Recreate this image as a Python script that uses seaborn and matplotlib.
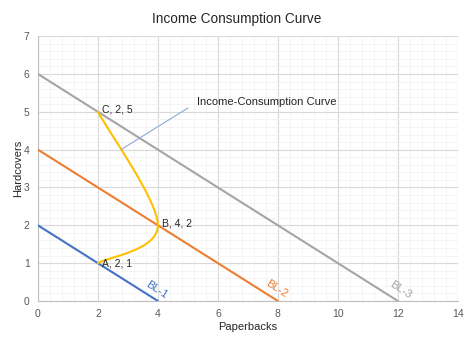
import numpy as np
import pandas as pd
import matplotlib
matplotlib.use("Agg")
import matplotlib.pyplot as plt
from matplotlib.path import Path
from matplotlib.patches import PathPatch
import seaborn as sns

# Budget lines: intercepts on each axis
budget_names = ["BL-1", "BL-2", "BL-3"]
paperback_max = [4, 8, 12]
hardcover_max = [2, 4, 6]
budget_colors = ["#4472C4", "#ED7D31", "#A5A5A5"]

# Optimal bundles on the income-consumption curve
point_names = ["A", "B", "C"]
point_x = [2, 4, 2]
point_y = [1, 2, 5]

sns.set_style("white")
plt.rcParams["font.family"] = ["Liberation Sans", "DejaVu Sans"]

fig = plt.figure(figsize=(4.74, 3.44), dpi=100)
ax = fig.add_axes([0.080, 0.125, 0.886, 0.770])

rows = []
for name, xm, ym in zip(budget_names, paperback_max, hardcover_max):
    rows.append({"line": name, "Paperbacks": 0, "Hardcovers": ym})
    rows.append({"line": name, "Paperbacks": xm, "Hardcovers": 0})
bl = pd.DataFrame(rows)
sns.lineplot(data=bl, x="Paperbacks", y="Hardcovers", hue="line",
             palette=dict(zip(budget_names, budget_colors)),
             linewidth=1.5, legend=False, ax=ax, zorder=3)

# Smoothed curve through the bundles (Catmull-Rom style Bezier segments)
P = np.column_stack([point_x, point_y]).astype(float)
n = len(P)
verts = [tuple(P[0])]
codes = [Path.MOVETO]
for i in range(n - 1):
    p_prev = P[max(i - 1, 0)]
    p0 = P[i]
    p1 = P[i + 1]
    p_next = P[min(i + 2, n - 1)]
    c1 = p0 + (p1 - p_prev) / 6.0
    c2 = p1 - (p_next - p0) / 6.0
    verts += [tuple(c1), tuple(c2), tuple(p1)]
    codes += [Path.CURVE4] * 3
ax.add_patch(PathPatch(Path(verts, codes), facecolor="none",
                       edgecolor="#FFC000", linewidth=1.5, zorder=4,
                       joinstyle="round", capstyle="round"))

# Point labels
for nm, x, y in zip(point_names, point_x, point_y):
    ax.text(x + 0.12, y + (0.05 if nm != "A" else -0.02), f"{nm}, {x}, {y}",
            fontsize=7.5, color="#262626", ha="left", va="center", zorder=5)

# Callout for the curve
ax.plot([2.77, 5.0], [4.0, 5.1], color="#8EA9DB", linewidth=0.8, zorder=5)
ax.text(5.3, 5.27, "Income-Consumption Curve", fontsize=8, color="#262626",
        ha="left", va="center", zorder=5)

# Budget line labels along each line
label_pos = [(3.97, 0.29), (7.97, 0.33), (12.1, 0.29)]
for name, col, (lx, ly) in zip(budget_names, budget_colors, label_pos):
    ax.text(lx, ly, name, fontsize=8, color=col, rotation=-33,
            ha="center", va="center", rotation_mode="anchor", zorder=5)

ax.set_xlim(0, 14)
ax.set_ylim(0, 7)
ax.set_xticks(np.arange(0, 15, 2))
ax.set_yticks(np.arange(0, 8, 1))
ax.set_xticks(np.arange(0, 14.01, 0.4), minor=True)
ax.set_yticks(np.arange(0, 7.01, 0.2), minor=True)
ax.grid(which="major", color="#D9D9D9", linewidth=0.8, zorder=0)
ax.grid(which="minor", color="#F2F2F2", linewidth=0.6, zorder=0)
ax.set_axisbelow(True)
ax.tick_params(which="both", length=0, labelsize=7.5, colors="#595959", pad=6)
for s in ["top", "right"]:
    ax.spines[s].set_visible(False)
for s in ["left", "bottom"]:
    ax.spines[s].set_color("#BFBFBF")
    ax.spines[s].set_linewidth(0.8)

ax.set_xlabel("Paperbacks", fontsize=8, color="#262626", labelpad=2)
ax.set_ylabel("Hardcovers", fontsize=8, color="#262626")
ax.yaxis.set_label_coords(-0.035, 0.5)
fig.suptitle("Income Consumption Curve", fontsize=9.8, color="#262626", y=0.965)

fig.savefig("out.png", dpi=100)
